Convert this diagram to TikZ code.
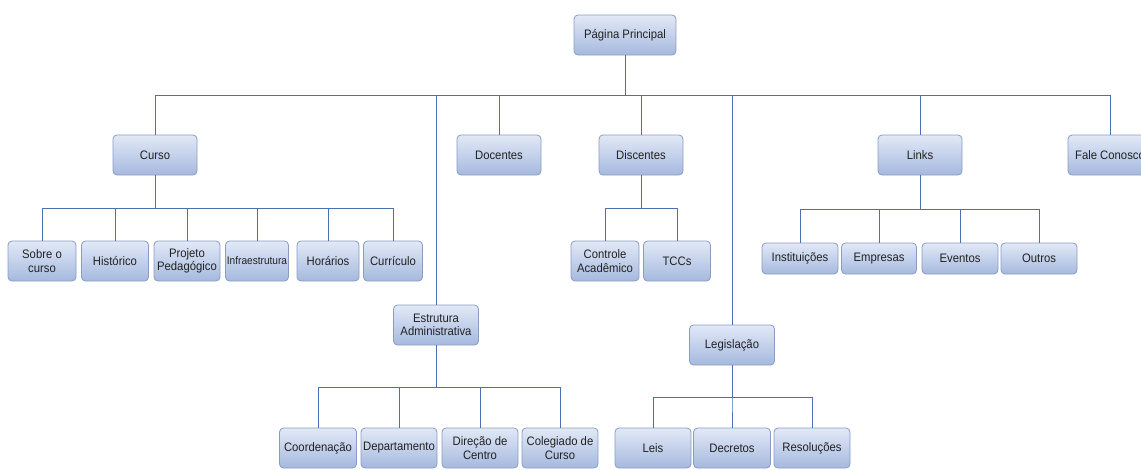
\documentclass[tikz,border=0pt]{standalone}
\usepackage{fontspec}
\setmainfont{Liberation Sans}[FakeStretch=0.92]
\usetikzlibrary{positioning, calc}
\definecolor{pgtop}{HTML}{E2E9F7}
\definecolor{pgbot}{HTML}{A5B9DE}
\definecolor{pgline}{HTML}{8A9CC2}
\definecolor{pgwire}{HTML}{4A70B4}
\definecolor{pgtext}{HTML}{222222}

\begin{document}
\begin{tikzpicture}[
  x=1pt, y=-1pt,
  every node/.style={font=\fontsize{12.3}{13.5}\selectfont, text=pgtext},
  pagebox/.style={rectangle, rounded corners=4pt, draw=pgline, line width=0.8pt, top color=pgtop, bottom color=pgbot, minimum width=84pt, minimum height=40pt, align=center, inner sep=1pt},
  leafbox/.style={pagebox, minimum width=68pt},
  wire/.style={draw=pgwire, line width=1pt},
]
\clip (0,0) rectangle (1141,469);

% bus lines
\coordinate (bus0) at (0,95);
\coordinate (bus1) at (0,208);
\coordinate (bus2) at (0,208);
\coordinate (bus3) at (0,209);
\coordinate (bus4) at (0,387);
\coordinate (bus5) at (0,397);

% top level
\node[pagebox, minimum width=102pt] (home) at (625,35) {Página Principal};

\node[pagebox] (curso) at (155,155) {Curso};
\node[pagebox] (docentes) at (499,155) {Docentes};
\node[pagebox] (discentes) at (641,155) {Discentes};
\node[pagebox] (links) at (920,155) {Links};
\node[pagebox] (fale) at (1110,155) {Fale Conosco};
\node[pagebox, minimum width=85pt] (estrutura) at (436,325) {Estrutura\\Administrativa};
\node[pagebox, minimum width=85pt] (legis) at (732,345) {Legislação};

% curso
\node[leafbox] (sobre) at (42,261) {Sobre o\\curso};
\node[leafbox, minimum width=67pt] (historico) at (115,261) {Histórico};
\node[leafbox, minimum width=66pt] (projeto) at (187,261) {Projeto\\Pedagógico};
\node[leafbox, minimum width=63pt, font=\fontsize{11}{12}\selectfont] (infra) at (257,261) {Infraestrutura};
\node[leafbox, minimum width=62pt] (horarios) at (328,261) {Horários};
\node[leafbox, minimum width=59pt] (curriculo) at (393,261) {Currículo};

% discentes
\node[leafbox] (controle) at (605,261) {Controle\\Acadêmico};
\node[leafbox, minimum width=67pt] (tccs) at (677,261) {TCCs};

% links
\node[leafbox, minimum width=76pt, minimum height=31pt] (inst) at (800,258.5) {Instituições};
\node[leafbox, minimum width=75pt, minimum height=31pt] (empresas) at (879,258.5) {Empresas};
\node[leafbox, minimum width=76pt, minimum height=31pt] (eventos) at (960,258.5) {Eventos};
\node[leafbox, minimum width=76pt, minimum height=31pt] (outros) at (1039,258.5) {Outros};

% estrutura
\node[leafbox, minimum width=77pt] (coord) at (318,448) {Coordenação};
\node[leafbox, minimum width=76pt] (depto) at (399,448) {Departamento};
\node[leafbox, minimum width=76pt] (direcao) at (480,448) {Direção de\\Centro};
\node[leafbox, minimum width=76pt] (colegiado) at (560,448) {Colegiado de\\Curso};

% legislacao
\node[leafbox, minimum width=76pt] (leis) at (653,448) {Leis};
\node[leafbox, minimum width=77pt] (decretos) at (732,448) {Decretos};
\node[leafbox, minimum width=76pt] (resol) at (812,448) {Resoluções};

% connectors
\foreach \n in {curso, docentes, discentes, links, fale}
  \draw[wire] (home.south) -- (home.south |- bus0) -| (\n.north);
\draw[wire] (home.south |- bus0) -| (estrutura.north);
\draw[wire] (home.south |- bus0) -| (legis.north);

\foreach \n in {sobre, historico, projeto, infra, horarios, curriculo}
  \draw[wire] (curso.south) -- (curso.south |- bus1) -| (\n.north);
\foreach \n in {controle, tccs}
  \draw[wire] (discentes.south) -- (discentes.south |- bus2) -| (\n.north);
\foreach \n in {inst, empresas, eventos, outros}
  \draw[wire] (links.south) -- (links.south |- bus3) -| (\n.north);
\foreach \n in {coord, depto, direcao, colegiado}
  \draw[wire] (estrutura.south) -- (estrutura.south |- bus4) -| (\n.north);
\foreach \n in {leis, decretos, resol}
  \draw[wire] (legis.south) -- (legis.south |- bus5) -| (\n.north);
\end{tikzpicture}
\end{document}
